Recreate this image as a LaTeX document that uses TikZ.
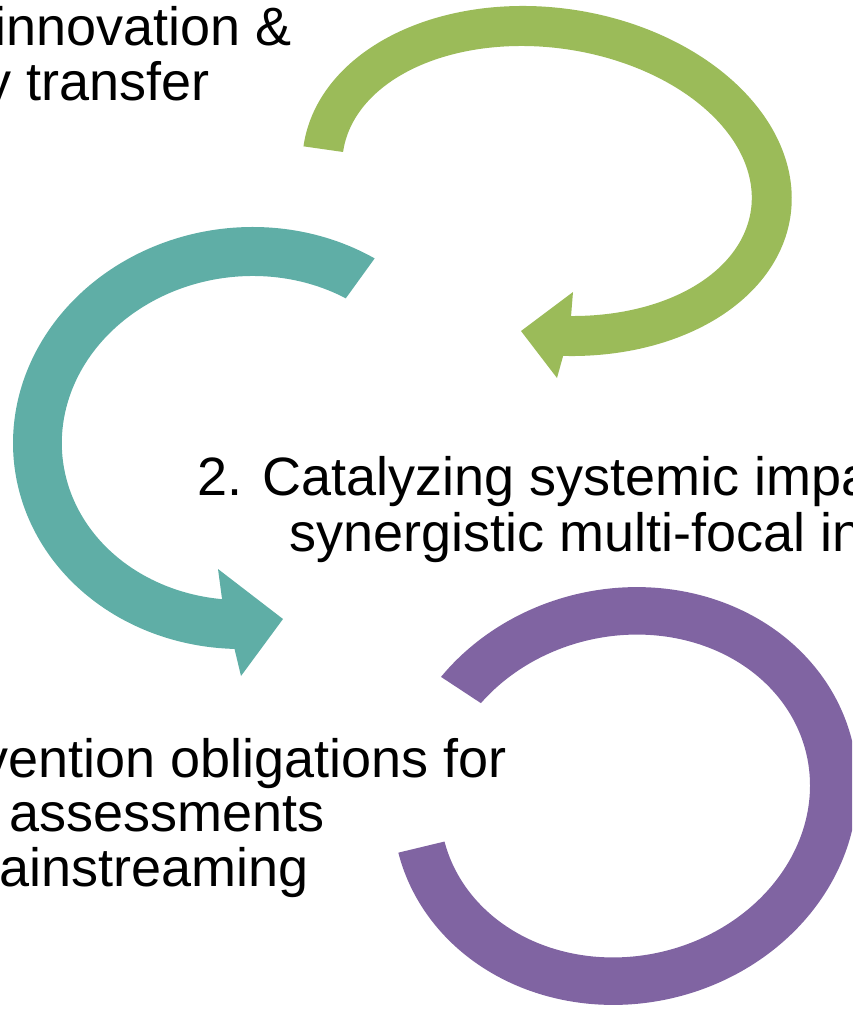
\documentclass[tikz,border=0pt]{standalone}
\usepackage{fontspec}
\setmainfont{Liberation Sans}
\definecolor{arrowgreen}{HTML}{9BBB59}
\definecolor{arrowteal}{HTML}{5FAEA6}
\definecolor{arrowpurple}{HTML}{8064A2}
\begin{document}
\begin{tikzpicture}[
       x=1pt, y=-1pt,
       steptext/.style={inner sep=0pt, font=\fontsize{54}{56}\selectfont},
       arc/.style={smooth, samples=120}
   ]
   \useasboundingbox (0,0) rectangle (852,1009);
   \clip (0,0) rectangle (852,1009);

   % green arrow (top): centre (547,181), tilt 8.1
   \fill[arrowgreen] plot[arc, domain=180:440.5] ({547+246*cos(\x)*cos(8.1)-173.3*sin(\x)*sin(8.1)}, {181+246*cos(\x)*sin(8.1)+173.3*sin(\x)*cos(8.1)})
      -- (557,378) -- (521,331) -- (573,292)
      -- plot[arc, domain=438:180] ({547+206*cos(\x)*cos(8.1)-133.2*sin(\x)*sin(8.1)}, {181+206*cos(\x)*sin(8.1)+133.2*sin(\x)*cos(8.1)})
      -- cycle;

   % teal arrow (middle): centre (247,438), tilt -6.6
   \fill[arrowteal] plot[arc, domain=-51:-261] ({247+234.3*cos(\x)*cos(-6.6)-210.7*sin(\x)*sin(-6.6)}, {438+234.3*cos(\x)*sin(-6.6)+210.7*sin(\x)*cos(-6.6)})
      -- (241,676) -- (283,619) -- (218,569)
      -- plot[arc, domain=-256.5:-52] ({247+185.5*cos(\x)*cos(-6.6)-161.7*sin(\x)*sin(-6.6)}, {438+185.5*cos(\x)*sin(-6.6)+161.7*sin(\x)*cos(-6.6)})
      -- cycle;

   % purple arrow (bottom): centre (625,796), tilt -12.7
   \fill[arrowpurple] plot[arc, domain=-131:178.5] ({625+233.7*cos(\x)*cos(-12.7)-207.6*sin(\x)*sin(-12.7)}, {796+233.7*cos(\x)*sin(-12.7)+207.6*sin(\x)*cos(-12.7)})
      -- plot[arc, domain=178.3:-130.2] ({625+186.2*cos(\x)*cos(-12.7)-160.1*sin(\x)*sin(-12.7)}, {796+186.2*cos(\x)*sin(-12.7)+160.1*sin(\x)*cos(-12.7)})
      -- cycle;

   \node[steptext, anchor=base east] (innov) at (292,45) {innovation \&};
   \node[steptext, anchor=base east] (transfer) at (210,100) {y transfer};
   \node[steptext, anchor=base west] (catal) at (197,495) {2. Catalyzing systemic impa};
   \node[steptext, anchor=base west] (synerg) at (289,551) {synergistic multi-focal in};
   \node[steptext, anchor=base east] (oblig) at (507,777) {vention obligations for};
   \node[steptext, anchor=base east] (assess) at (325,831) {assessments};
   \node[steptext, anchor=base east] (mainstr) at (309,886) {ainstreaming};
\end{tikzpicture}
\end{document}
